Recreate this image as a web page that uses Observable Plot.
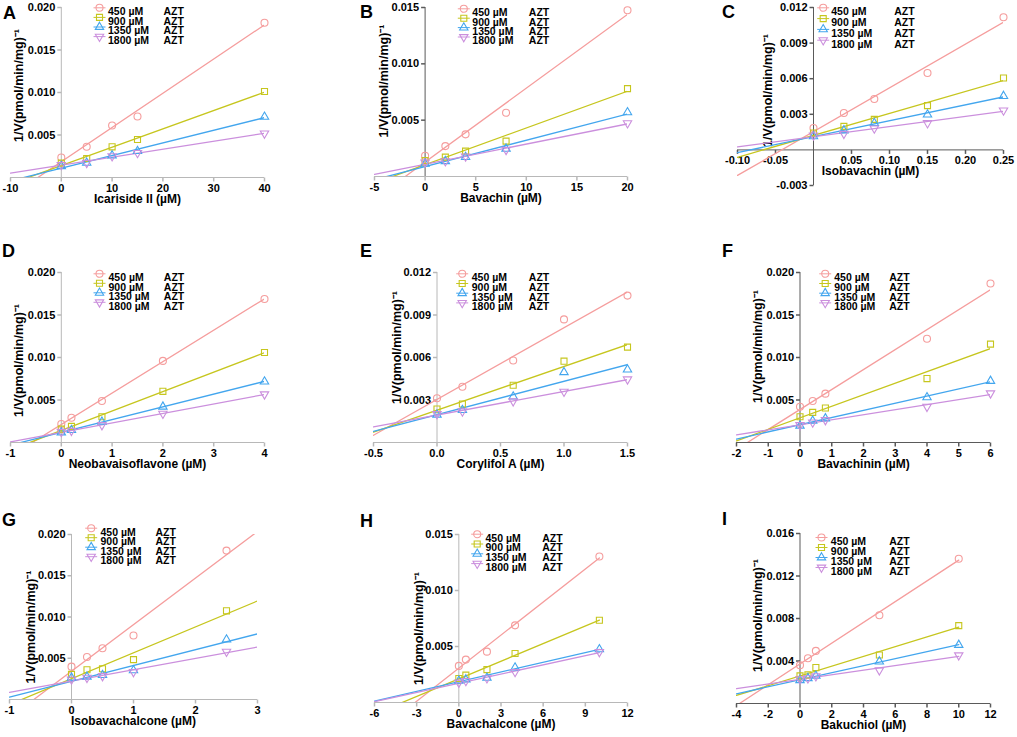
<!DOCTYPE html>
<html><head><meta charset="utf-8">
<script src="https://cdn.jsdelivr.net/npm/d3@7"></script>
<script src="https://cdn.jsdelivr.net/npm/@observablehq/plot@0.6"></script>
<style>
body{margin:0;background:#fff;}
#fig{position:relative;width:1017px;height:737px;overflow:hidden;background:#fff;font-family:"Liberation Sans",Arial,sans-serif;}
#fig svg{position:absolute;overflow:visible;background:transparent;}
.letter{position:absolute;font-weight:bold;font-size:18px;line-height:18px;font-family:"Liberation Sans",Arial,sans-serif;color:#000;}
</style></head><body><div id="fig"></div>
<script>
// ---- data ----
const seriesNames = ["450 µM", "900 µM", "1350 µM", "1800 µM"];
const yLabelText = "1/V(pmol/min/mg)⁻¹";

const icarisideX = [0, 5, 10, 15, 40];
const icarisideY = [
  [0.00235, 0.00361, 0.00612, 0.00718, 0.0182],
  [0.00169, 0.00224, 0.00361, 0.00447, 0.01012],
  [0.00133, 0.00173, 0.00259, 0.0031, 0.00714],
  [0.00149, 0.00173, 0.00251, 0.0029, 0.00518]];
const bavachinX = [0, 2, 4, 8, 20];
const bavachinY = [
  [0.00184, 0.0027, 0.00374, 0.00566, 0.01476],
  [0.00142, 0.00172, 0.00225, 0.00314, 0.0078],
  [0.00113, 0.00136, 0.00172, 0.00246, 0.00569],
  [0.00125, 0.00136, 0.00178, 0.00237, 0.00474]];
const isobavachinX = [0, 0.04, 0.08, 0.15, 0.25];
const isobavachinY = [
  [0.00184, 0.00311, 0.00429, 0.00648, 0.01118],
  [0.00142, 0.00198, 0.00257, 0.00373, 0.00606],
  [0.00114, 0.00164, 0.00226, 0.00297, 0.00454],
  [0.00122, 0.00136, 0.00181, 0.00226, 0.00333]];
const neobavaX = [0, 0.2, 0.8, 2, 4];
const neobavaY = [
  [0.00217, 0.00291, 0.00488, 0.0096, 0.01689],
  [0.00157, 0.00189, 0.00303, 0.00602, 0.01059],
  [0.00118, 0.00146, 0.00244, 0.00421, 0.00717],
  [0.00126, 0.00138, 0.00205, 0.00339, 0.00567]];
const corylifolX = [0, 0.2, 0.6, 1.0, 1.5];
const corylifolY = [
  [0.00312, 0.00394, 0.00579, 0.00869, 0.01037],
  [0.00236, 0.00272, 0.00404, 0.00574, 0.00673],
  [0.00196, 0.00229, 0.00324, 0.00496, 0.00515],
  [0.00201, 0.0022, 0.00291, 0.00359, 0.00446]];
const bavachininX = [0, 0.4, 0.8, 4, 6];
const bavachininY = [
  [0.00421, 0.00488, 0.00575, 0.0122, 0.0187],
  [0.00303, 0.00354, 0.00406, 0.00752, 0.01157],
  [0.00197, 0.00256, 0.00283, 0.00531, 0.00724],
  [0.00205, 0.00236, 0.00264, 0.00421, 0.00579]];
const isobavachalconeX = [0, 0.25, 0.5, 1, 2.5];
const isobavachalconeY = [
  [0.00398, 0.00515, 0.00621, 0.00775, 0.01805],
  [0.00304, 0.00361, 0.00373, 0.00483, 0.01075],
  [0.00264, 0.00276, 0.00296, 0.00353, 0.00726],
  [0.00243, 0.00264, 0.00284, 0.00333, 0.0058]];
const bavachalconeX = [0, 0.5, 2, 4, 10];
const bavachalconeY = [
  [0.00327, 0.00383, 0.00454, 0.00689, 0.01304],
  [0.00214, 0.00244, 0.00294, 0.00437, 0.00734],
  [0.00193, 0.00205, 0.0022, 0.00312, 0.00475],
  [0.00178, 0.00193, 0.00217, 0.00273, 0.00451]];
const bakuchiolX = [0, 0.5, 1, 5, 10];
const bakuchiolY = [
  [0.0036, 0.00426, 0.00495, 0.0083, 0.01362],
  [0.0026, 0.00269, 0.00338, 0.00457, 0.00733],
  [0.00219, 0.00238, 0.0026, 0.00395, 0.00551],
  [0.00229, 0.00238, 0.00257, 0.00313, 0.00454]];

const panels = [
  {id:"A", xLabel:"Icariside II (µM)", x:icarisideX, y:icarisideY, xTicks:[-10,0,10,20,30,40], yTicks:[0.005,0.010,0.015,0.020], xDomain:[-10,40], yDomain:[0,0.020], xDec:0, lineEnd:40},
  {id:"B", xLabel:"Bavachin (µM)", x:bavachinX, y:bavachinY, xTicks:[-5,0,5,10,15,20], yTicks:[0.005,0.010,0.015], xDomain:[-5,20], yDomain:[0,0.015], xDec:0, lineEnd:20},
  {id:"C", xLabel:"Isobavachin (µM)", x:isobavachinX, y:isobavachinY, xTicks:[-0.10,-0.05,0.05,0.10,0.15,0.20,0.25], yTicks:[-0.003,0.003,0.006,0.009,0.012], xDomain:[-0.10,0.25], yDomain:[-0.003,0.012], xDec:2, lineEnd:0.25},
  {id:"D", xLabel:"Neobavaisoflavone (µM)", x:neobavaX, y:neobavaY, xTicks:[-1,0,1,2,3,4], yTicks:[0.005,0.010,0.015,0.020], xDomain:[-1,4], yDomain:[0,0.020], xDec:0, lineEnd:4},
  {id:"E", xLabel:"Corylifol A (µM)", x:corylifolX, y:corylifolY, xTicks:[-0.5,0,0.5,1.0,1.5], yTicks:[0.003,0.006,0.009,0.012], xDomain:[-0.5,1.5], yDomain:[0,0.012], xDec:1, lineEnd:1.5},
  {id:"F", xLabel:"Bavachinin (µM)", x:bavachininX, y:bavachininY, xTicks:[-2,-1,0,1,2,3,4,5,6], yTicks:[0.005,0.010,0.015,0.020], xDomain:[-2,6], yDomain:[0,0.020], xDec:0, lineEnd:6},
  {id:"G", xLabel:"Isobavachalcone (µM)", x:isobavachalconeX, y:isobavachalconeY, xTicks:[-1,0,1,2,3], yTicks:[0.005,0.010,0.015,0.020], xDomain:[-1,3], yDomain:[0,0.020], xDec:0, lineEnd:3},
  {id:"H", xLabel:"Bavachalcone (µM)", x:bavachalconeX, y:bavachalconeY, xTicks:[-6,-3,0,3,6,9,12], yTicks:[0.005,0.010,0.015], xDomain:[-6,12], yDomain:[0,0.015], xDec:0, lineEnd:10},
  {id:"I", xLabel:"Bakuchiol (µM)", x:bakuchiolX, y:bakuchiolY, xTicks:[-4,-2,0,2,4,6,8,10,12], yTicks:[0.004,0.008,0.012,0.016], xDomain:[-4,12], yDomain:[0,0.016], xDec:0, lineEnd:10}
];

// ---- layout & style ----
const LIGHT = "#b8b8b8", DARK = "#5a5a5a";
const layout = {
  A:{L:10, R:264, T:7,   B:177, lg:[89,0.3,9.6,8.5,64],   yLab:[-42,-7],  letter:[3,4.3],    yc:LIGHT, xc:LIGHT},
  B:{L:374,R:627, T:7,   B:176, lg:[89.3,1.3,9.4,8.5,65], yLab:[-41,-11], letter:[360,3.3],  yc:DARK,  xc:LIGHT},
  C:{L:737,R:1003,T:7,   B:185, lg:[85.7,0.3,10.8,8,71],  yLab:[-46,-6],  letter:[722,3.3],  yc:DARK,  xc:DARK},
  D:{L:10, R:264, T:272, B:442, lg:[89,1.3,9.5,9,64.3],   yLab:[-42,3],   letter:[2,241.8],  yc:LIGHT, xc:LIGHT},
  E:{L:373,R:627, T:272, B:442, lg:[88.7,1.3,9.7,9.5,66.6], yLab:[-40,-10], letter:[360,241.8], yc:LIGHT, xc:LIGHT},
  F:{L:736,R:990, T:272, B:442, lg:[88.7,1.3,9.7,9,64],   yLab:[-42,-11], letter:[722,241.8], yc:DARK, xc:DARK},
  G:{L:9,  R:257, T:534, B:699, lg:[81.7,-6.3,9.5,9.3,64.3], yLab:[-41,10], letter:[2,510.8], yc:LIGHT, xc:LIGHT},
  H:{L:374,R:627, T:534, B:702, lg:[102.7,-0.3,9.8,8.3,65], yLab:[-40,10], letter:[360,511.8], yc:LIGHT, xc:LIGHT},
  I:{L:736,R:990, T:533, B:703, lg:[85,4,10,9.3,67.7],    yLab:[-42,-3],  letter:[722,509.8], yc:DARK,  xc:DARK}
};
const colors = ["#f59d9d", "#c6c61e", "#43a6ee", "#cb8fdd"];
const sqrt3 = Math.sqrt(3);
const triangleDown = {draw(ctx, size){ const y = Math.sqrt(size/(sqrt3*3)); ctx.moveTo(0, 2*y); ctx.lineTo(sqrt3*y, -y); ctx.lineTo(-sqrt3*y, -y); ctx.closePath(); }};
const symbols = ["circle", "square", "triangle", triangleDown];
const symR = [3.5, 3.4, 3.1, 3.1];
const tickLeft = {draw(ctx){ ctx.moveTo(-4,0); ctx.lineTo(0,0); }};
const tickDown = {draw(ctx){ ctx.moveTo(0,0); ctx.lineTo(0,4); }};
const legendLine = {draw(ctx){ ctx.moveTo(-6,0); ctx.lineTo(6,0); }};
const FONT = "'Liberation Sans', Arial, sans-serif";

function fit(xs, ys){
  const mx = d3.mean(xs), my = d3.mean(ys);
  let sxy = 0, sxx = 0;
  xs.forEach((x,i)=>{ sxy += (x-mx)*(ys[i]-my); sxx += (x-mx)*(x-mx); });
  const m = sxy/sxx;
  return {m, b: my - m*mx};
}

const fig = document.getElementById("fig");
const mL = 5, mR = 25, mT = 20, mB = 45;

panels.forEach(p => {
  const lay = layout[p.id];
  const marks = [];
  // axes
  marks.push(Plot.ruleY([0], {stroke: lay.xc, strokeWidth: 1}));
  marks.push(Plot.ruleX([0], {stroke: lay.yc, strokeWidth: 1}));
  marks.push(Plot.dot(p.yTicks, {x: 0, y: d=>d, symbol: tickLeft, stroke: lay.yc, fill: "none", r: 2}));
  marks.push(Plot.dot(p.xTicks, {x: d=>d, y: 0, symbol: tickDown, stroke: lay.xc, fill: "none", r: 2}));
  marks.push(Plot.text(p.yTicks, {x: 0, y: d=>d, text: d=>d.toFixed(3), textAnchor: "end", dx: -6, fontSize: 11, fontWeight: "bold", fill: "#000"}));
  marks.push(Plot.text(p.xTicks, {x: d=>d, y: 0, text: d=>d.toFixed(p.xDec), dy: 11, fontSize: 11, fontWeight: "bold", fill: "#000"}));
  marks.push(Plot.text([yLabelText], {x: 0, frameAnchor: "middle", text: d=>d, rotate: -90, dx: lay.yLab[0], dy: lay.yLab[1], fontSize: 12.5, fontWeight: "bold", fill: "#000"}));
  marks.push(Plot.text([p.xLabel], {y: 0, frameAnchor: "bottom", text: d=>d, dy: 25.5, fontSize: 12, fontWeight: "bold", fill: "#000"}));
  // fitted lines and points
  seriesNames.forEach((s, i) => {
    const f = fit(p.x, p.y[i]);
    const seg = [p.xDomain[0], p.lineEnd].map(x => ({x, y: f.b + f.m*x}));
    marks.push(Plot.line(seg, {x: "x", y: "y", stroke: colors[i], strokeWidth: 1.3, clip: true}));
  });
  seriesNames.forEach((s, i) => {
    const pts = p.x.map((x, j) => ({x, y: p.y[i][j]}));
    marks.push(Plot.dot(pts, {x: "x", y: "y", symbol: symbols[i], stroke: colors[i], fill: "none", r: symR[i], strokeWidth: 1.1}));
  });
  // legend
  const [lx, ly, sp, tx, ax] = lay.lg;
  seriesNames.forEach((s, i) => {
    const dy = ly + i*sp;
    marks.push(Plot.dot([s], {frameAnchor: "top-left", dx: lx, dy, symbol: legendLine, stroke: colors[i], fill: "none", r: 2, strokeWidth: 1}));
    marks.push(Plot.dot([s], {frameAnchor: "top-left", dx: lx, dy, symbol: symbols[i], stroke: colors[i], fill: "none", r: symR[i], strokeWidth: 1.1}));
    marks.push(Plot.text([s], {frameAnchor: "top-left", dx: lx + tx, dy, text: d=>d, textAnchor: "start", fontSize: 10.5, fontWeight: "bold", fill: "#000"}));
    marks.push(Plot.text(["AZT"], {frameAnchor: "top-left", dx: lx + ax, dy, text: d=>d, textAnchor: "start", fontSize: 10.5, fontWeight: "bold", fill: "#000"}));
  });
  const W = lay.R - lay.L + mL + mR, H = lay.B - lay.T + mT + mB;
  const svg = Plot.plot({
    width: W, height: H,
    marginLeft: mL, marginRight: mR, marginTop: mT, marginBottom: mB,
    x: {domain: p.xDomain, axis: null},
    y: {domain: p.yDomain, axis: null},
    style: {fontFamily: FONT, background: "transparent", overflow: "visible"},
    marks
  });
  svg.style.left = (lay.L - mL) + "px";
  svg.style.top = (lay.T - mT) + "px";
  fig.appendChild(svg);
  const letter = document.createElement("div");
  letter.className = "letter";
  letter.textContent = p.id;
  letter.style.left = lay.letter[0] + "px";
  letter.style.top = lay.letter[1] + "px";
  fig.appendChild(letter);
});
</script>
</body></html>
